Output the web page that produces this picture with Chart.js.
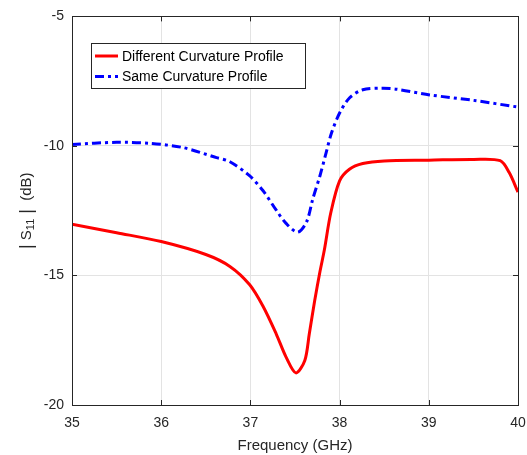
<!DOCTYPE html>
<html>
<head>
<meta charset="utf-8">
<script src="https://cdn.jsdelivr.net/npm/chart.js@4"></script>
<style>
  html, body { margin: 0; padding: 0; background: #fff; }
  #wrap { width: 527px; height: 455px; }
</style>
</head>
<body>
<div id="wrap"><canvas id="grafico" width="527" height="455"></canvas></div>
<script>
// valores
const freqDiferente = [35, 35.5, 36, 36.5, 36.77, 36.99, 37.14, 37.29, 37.40, 37.51, 37.61, 37.66, 37.72, 37.78, 37.83, 37.9, 38.0, 38.11, 38.26, 38.5, 39.0, 39.5, 39.8, 39.9, 40.0];
const s11Diferente  = [-13.02, -13.35, -13.69, -14.19, -14.65, -15.35, -16.18, -17.26, -18.15, -18.76, -18.28, -17.26, -15.99, -14.85, -14.0, -12.6, -11.35, -10.9, -10.68, -10.58, -10.55, -10.52, -10.57, -11.02, -11.78];

const freqIgual = [35, 35.5, 35.87, 36.24, 36.62, 36.77, 36.99, 37.14, 37.29, 37.40, 37.53, 37.63, 37.70, 37.78, 37.85, 37.91, 38.0, 38.11, 38.26, 38.48, 38.64, 39.01, 39.5, 40.0];
const s11Igual  = [-9.94, -9.86, -9.9, -10.06, -10.45, -10.61, -11.15, -11.72, -12.48, -12.99, -13.33, -12.93, -12.04, -11.15, -10.25, -9.49, -8.73, -8.15, -7.83, -7.77, -7.81, -8.03, -8.24, -8.5];

const rotulos = ['Different Curvature Profile', 'Same Curvature Profile'];
const ticksX = [35, 36, 37, 38, 39, 40];
const ticksY = [-20, -15, -10, -5];

function pontos(xs, ys) {
    return xs.map((x, i) => ({ x: x, y: ys[i] }));
}

const fonte = 'Liberation Sans, Arial, sans-serif';

// caixa, ticks para dentro, legenda e título do eixo y (estilo MATLAB)
const estiloMatlab = {
    id: 'estiloMatlab',
    afterDraw(chart) {
        const ctx = chart.ctx;
        const a = chart.chartArea;
        const sx = chart.scales.x, sy = chart.scales.y;
        ctx.save();
        ctx.strokeStyle = '#262626';
        ctx.lineWidth = 1;
        ctx.strokeRect(Math.round(a.left) + 0.5, Math.round(a.top) + 0.5,
            Math.round(a.right - a.left), Math.round(a.bottom - a.top));
        const t = 5;
        ctx.beginPath();
        ticksX.forEach(v => {
            const px = Math.round(sx.getPixelForValue(v)) + 0.5;
            ctx.moveTo(px, a.bottom); ctx.lineTo(px, a.bottom - t);
            ctx.moveTo(px, a.top); ctx.lineTo(px, a.top + t);
        });
        ticksY.forEach(v => {
            const py = Math.round(sy.getPixelForValue(v)) + 0.5;
            ctx.moveTo(a.left, py); ctx.lineTo(a.left + t, py);
            ctx.moveTo(a.right, py); ctx.lineTo(a.right - t, py);
        });
        ctx.stroke();

        // legenda
        const lx = 91.5, ly = 43.5, lw = 214, lh = 45;
        ctx.fillStyle = '#fff';
        ctx.fillRect(lx, ly, lw, lh);
        ctx.strokeStyle = '#262626';
        ctx.strokeRect(lx, ly, lw, lh);
        ctx.font = '14px ' + fonte;
        ctx.textBaseline = 'middle';
        ctx.textAlign = 'left';
        chart.data.datasets.forEach((ds, i) => {
            const yy = 56 + i * 20.5;
            ctx.strokeStyle = ds.borderColor;
            ctx.lineWidth = 3;
            ctx.setLineDash(ds.borderDash || []);
            ctx.beginPath();
            ctx.moveTo(95, yy); ctx.lineTo(118, yy);
            ctx.stroke();
            ctx.setLineDash([]);
            ctx.fillStyle = '#000';
            ctx.fillText(ds.label, 122, yy + 1);
        });

        // título do eixo y com subscrito
        const cx = 27, cy = (a.top + a.bottom) / 2;
        ctx.translate(cx, cy);
        ctx.rotate(-Math.PI / 2);
        ctx.fillStyle = '#262626';
        const partes = [
            { t: '|', f: '18px ' + fonte, dy: 0 },
            { t: ' S', f: '15px ' + fonte, dy: 0 },
            { t: '11', f: '11px ' + fonte, dy: 4 },
            { t: ' |', f: '18px ' + fonte, dy: 0 },
            { t: '  (dB)', f: '15px ' + fonte, dy: 0 }
        ];
        let total = 0;
        partes.forEach(p => { ctx.font = p.f; total += ctx.measureText(p.t).width; });
        let x0 = -total / 2;
        partes.forEach(p => {
            ctx.font = p.f;
            ctx.fillText(p.t, x0, p.dy);
            x0 += ctx.measureText(p.t).width;
        });
        ctx.restore();
    }
};

document.addEventListener('DOMContentLoaded', function () {
    const grafico = document.getElementById('grafico').getContext('2d');
    new Chart(grafico, {
        type: 'scatter',
        data: {
            datasets: [{
                label: rotulos[0],
                data: pontos(freqDiferente, s11Diferente),
                borderColor: '#ff0000',
                backgroundColor: '#ff0000',
                borderWidth: 3,
                pointRadius: 0,
                showLine: true,
                tension: 0.3
            }, {
                label: rotulos[1],
                data: pontos(freqIgual, s11Igual),
                borderColor: '#0000ff',
                backgroundColor: '#0000ff',
                borderWidth: 3,
                borderDash: [9, 4, 3, 4],
                pointRadius: 0,
                showLine: true,
                tension: 0.3
            }]
        },
        options: {
            responsive: false,
            animation: false,
            layout: { padding: { top: 13, right: 0, left: 0, bottom: 0 } },
            plugins: {
                legend: { display: false },
                tooltip: { enabled: false }
            },
            scales: {
                x: {
                    type: 'linear',
                    min: 35,
                    max: 40,
                    afterBuildTicks: s => { s.ticks = ticksX.map(v => ({ value: v })); },
                    afterFit: s => { s.height = 50; s.paddingRight = 9; },
                    grid: { color: '#e3e3e3', drawTicks: false },
                    border: { display: false },
                    ticks: { color: '#262626', font: { family: fonte, size: 14 }, padding: 10 },
                    title: { display: true, text: 'Frequency (GHz)', color: '#262626', font: { family: fonte, size: 15 }, padding: { top: 1, bottom: 0 } }
                },
                y: {
                    type: 'linear',
                    min: -20,
                    max: -5,
                    afterBuildTicks: s => { s.ticks = ticksY.map(v => ({ value: v })); },
                    afterFit: s => { s.width = 72; },
                    grid: { color: '#e3e3e3', drawTicks: false },
                    border: { display: false },
                    ticks: { color: '#262626', font: { family: fonte, size: 14 }, padding: 8 }
                }
            }
        },
        plugins: [estiloMatlab]
    });
});
</script>
</body>
</html>
